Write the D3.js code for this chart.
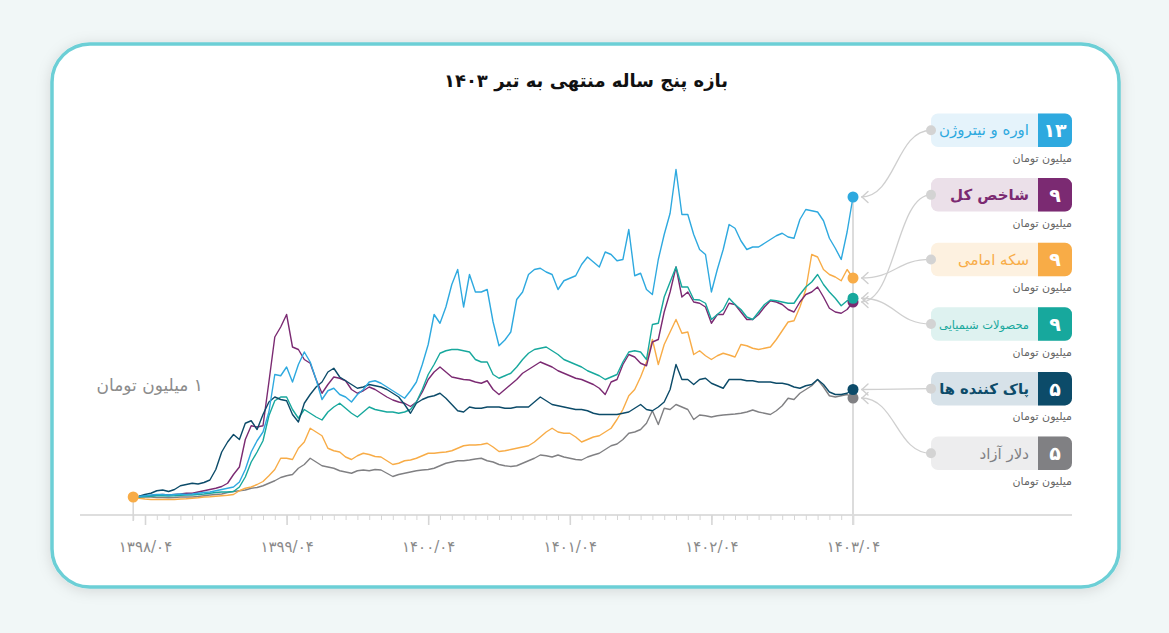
<!DOCTYPE html>
<html lang="fa">
<head>
<meta charset="utf-8">
<script src="https://cdn.jsdelivr.net/npm/d3@7"></script>
<style>
  html, body { margin: 0; padding: 0; background: #f1f7f7; }
  svg { display: block; font-family: 'DejaVu Sans', sans-serif; }
</style>
</head>
<body>
<div id="chart"></div>
<script>
// value of 1 million toman invested ~5 years ago, by half-month (0 = tir 1398)
const months = d3.range(-1, 60.01, 0.5);

const urea = [
  1.0, 1.02, 1.05, 1.08, 1.1, 1.1, 1.08, 1.1, 1.12, 1.1,
  1.12, 1.15, 1.18, 1.2, 1.25, 1.3, 1.35, 1.4, 1.6, 2.1,
  2.8, 3.25, 3.6, 4.4, 5.9, 5.85, 6.2, 5.6, 6.3, 6.8,
  6.4, 5.7, 4.9, 5.25, 5.35, 5.1, 5.0, 4.8, 5.1, 5.3,
  5.6, 5.65, 5.55, 5.4, 5.25, 5.1, 4.95, 5.25, 5.6, 6.3,
  7.1, 8.3, 7.95, 8.6, 9.5, 10.1, 8.6, 9.9, 9.2, 9.2,
  9.3, 8.0, 7.05, 7.28, 7.6, 8.9, 9.2, 9.9, 10.1, 10.15,
  10.0, 9.9, 9.3, 9.65, 9.75, 9.85, 10.3, 10.6, 10.4, 10.2,
  10.8, 10.7, 10.45, 10.5, 11.7, 9.85, 9.95, 9.3, 9.1, 10.5,
  11.5, 12.35, 14.1, 12.3, 12.3, 11.5, 10.9, 10.7, 9.2, 10.1,
  10.9, 11.9, 11.75, 11.25, 10.9, 11.0, 11.0, 11.15, 11.3, 11.45,
  11.55, 11.4, 11.35, 12.1, 12.5, 12.45, 12.4, 12.05, 11.35, 10.95,
  10.5, 11.6, 13.0
];
const shakhes = [
  1.0, 1.02, 1.05, 1.05, 1.08, 1.1, 1.08, 1.1, 1.12, 1.15,
  1.15, 1.2, 1.25, 1.3, 1.35, 1.42, 1.55, 1.9, 2.2, 3.3,
  3.85, 3.8, 3.85, 5.6, 7.4, 7.8, 8.3, 7.0, 6.9, 6.5,
  6.35, 5.7, 5.15, 5.5, 5.8, 5.75, 5.65, 5.3, 5.15, 5.25,
  5.4, 5.3, 5.15, 5.0, 4.88, 4.8, 4.75, 4.62, 4.8, 5.2,
  5.7, 6.0, 6.2, 6.0, 5.8, 5.75, 5.7, 5.68, 5.6, 5.55,
  5.65, 5.3, 5.1, 5.3, 5.5, 5.7, 5.95, 6.1, 6.25, 6.4,
  6.3, 6.2, 6.05, 5.95, 5.85, 5.75, 5.7, 5.6, 5.5, 5.35,
  5.1, 5.6, 5.7, 6.3, 6.7, 6.6, 6.35, 6.25, 7.2, 7.3,
  8.4, 9.2, 10.2, 9.0, 9.2, 8.8, 8.75, 8.6, 7.95, 8.3,
  8.3, 8.75, 8.7, 8.4, 8.1, 8.1, 8.3, 8.6, 8.85, 8.8,
  8.7, 8.5, 8.4, 8.8, 9.1, 9.2, 9.4, 9.0, 8.55, 8.4,
  8.35, 8.5, 8.8
];
const coin = [
  1.0, 0.95, 0.92, 0.9, 0.9, 0.9, 0.9, 0.9, 0.92, 0.93,
  0.95, 0.97, 1.0, 1.01, 1.03, 1.05, 1.07, 1.1, 1.25, 1.35,
  1.4, 1.5, 1.62, 1.85, 2.1, 2.55, 2.55, 2.5, 2.95, 3.2,
  3.75, 3.6, 3.45, 2.95, 2.85, 2.8, 2.6, 2.5, 2.65, 2.75,
  2.7, 2.62, 2.6, 2.45, 2.3, 2.35, 2.45, 2.48, 2.55, 2.65,
  2.75, 2.75, 2.78, 2.8, 2.85, 2.95, 3.05, 3.08, 3.08, 3.1,
  3.15, 3.0, 2.82, 2.85, 2.9, 2.95, 3.0, 3.05, 3.2, 3.4,
  3.6, 3.75, 3.6, 3.55, 3.55, 3.4, 3.2, 3.3, 3.4, 3.45,
  3.6, 3.75, 4.1, 4.5, 5.05, 5.3, 5.8, 6.4, 7.3, 6.3,
  7.1, 7.6, 8.1, 7.55, 7.6, 6.7, 6.85, 6.65, 6.5, 6.65,
  6.75, 6.68, 6.6, 7.1, 7.05, 6.95, 6.9, 6.95, 7.0, 7.3,
  7.65, 8.0, 8.05, 8.6, 9.3, 10.7, 10.6, 10.1, 9.9, 9.8,
  9.65, 10.1, 9.76
];
const chemical = [
  1.0, 1.0, 1.02, 1.03, 1.05, 1.05, 1.04, 1.05, 1.07, 1.08,
  1.08, 1.1, 1.12, 1.15, 1.18, 1.2, 1.2, 1.22, 1.4, 1.8,
  2.4, 2.8, 3.25, 4.25, 4.85, 5.0, 5.0, 4.5, 4.15, 4.5,
  4.35, 4.2, 4.08, 4.4, 4.6, 4.75, 4.55, 4.35, 4.2, 4.4,
  4.6, 4.5, 4.45, 4.4, 4.4, 4.35, 4.4, 4.5, 4.8, 5.3,
  5.9, 6.3, 6.75, 6.85, 6.9, 6.9, 6.85, 6.8, 6.5, 6.4,
  6.4, 5.9, 5.75, 5.85, 5.95, 6.2, 6.5, 6.75, 6.9, 6.95,
  7.0, 6.85, 6.7, 6.5, 6.4, 6.3, 6.2, 6.05, 5.95, 5.85,
  5.7, 5.8, 5.9, 6.4, 6.8, 6.85, 6.8, 6.5, 7.9, 7.95,
  9.0, 9.6, 10.2, 9.4, 9.4, 8.9, 8.88, 8.75, 8.1, 8.3,
  8.5, 8.95, 8.7, 8.5, 8.2, 8.1, 8.4, 8.7, 8.88, 8.85,
  8.8, 8.75, 8.75, 9.1, 9.4, 9.6, 9.9, 9.5, 9.2, 8.95,
  8.65, 8.85, 8.95
];
const cleaners = [
  1.0, 1.03, 1.1, 1.15, 1.25, 1.28, 1.22, 1.3, 1.45, 1.5,
  1.55, 1.52, 1.58, 1.68, 2.1, 2.8, 3.2, 3.5, 3.3, 3.95,
  4.05, 3.7, 4.3, 4.8, 5.0, 4.9, 4.85, 4.3, 4.0, 4.75,
  5.1, 5.4, 5.6, 6.0, 6.15, 5.8, 5.65, 5.5, 5.35, 5.4,
  5.5, 5.45, 5.4, 5.3, 5.15, 5.0, 4.7, 4.35, 4.75, 4.9,
  5.0, 5.05, 5.15, 4.95, 4.7, 4.45, 4.4, 4.6, 4.55, 4.55,
  4.6, 4.6, 4.6, 4.55, 4.55, 4.6, 4.6, 4.6, 4.8, 5.0,
  4.85, 4.7, 4.65, 4.6, 4.55, 4.5, 4.5, 4.45, 4.35, 4.3,
  4.3, 4.3, 4.3, 4.35, 4.4, 4.55, 4.7, 4.5, 4.45, 4.6,
  4.8, 5.3, 6.3, 5.7, 5.7, 5.5, 5.7, 5.75, 5.55, 5.45,
  5.35, 5.7, 5.7, 5.7, 5.65, 5.65, 5.6, 5.6, 5.6, 5.55,
  5.55, 5.5, 5.4, 5.35, 5.45, 5.5, 5.7, 5.5, 5.2, 5.1,
  5.1, 5.15, 5.3
];
const dollar = [
  1.0, 1.0, 1.0, 1.0, 0.98, 0.98, 0.97, 0.98, 1.0, 1.0,
  1.0, 1.02, 1.05, 1.08, 1.1, 1.12, 1.18, 1.22, 1.25, 1.28,
  1.35, 1.38, 1.45, 1.55, 1.65, 1.78, 1.85, 1.9, 2.15, 2.3,
  2.55, 2.4, 2.25, 2.2, 2.15, 2.05, 2.0, 1.95, 2.05, 2.08,
  2.05, 2.1, 2.08, 1.95, 1.82, 1.9, 1.95, 2.0, 2.05, 2.08,
  2.1, 2.15, 2.25, 2.35, 2.4, 2.45, 2.45, 2.48, 2.52, 2.55,
  2.45, 2.4, 2.3, 2.25, 2.22, 2.25, 2.35, 2.45, 2.55, 2.68,
  2.65, 2.6, 2.68, 2.6, 2.55, 2.5, 2.48, 2.6, 2.68, 2.75,
  2.9, 3.05, 3.12, 3.3, 3.55, 3.6, 3.7, 3.95, 4.45, 3.9,
  4.55, 4.5, 4.7, 4.6, 4.5, 4.1, 4.28, 4.25, 4.2, 4.25,
  4.28, 4.3, 4.32, 4.35, 4.4, 4.48, 4.4, 4.35, 4.3, 4.45,
  4.65, 4.95, 4.9, 5.15, 5.3, 5.45, 5.7, 5.4, 5.05, 5.0,
  5.05, 5.1, 4.96
];

const tickMonths = [0, 12, 24, 36, 48, 60];
const tickLabels = ["۱۳۹۸/۰۴", "۱۳۹۹/۰۴", "۱۴۰۰/۰۴", "۱۴۰۱/۰۴", "۱۴۰۲/۰۴", "۱۴۰۳/۰۴"];

const names = ["اوره و نیتروژن", "شاخص کل", "سکه امامی", "محصولات شیمیایی", "پاک کننده ها", "دلار آزاد"];
const legendValues = ["۱۳", "۹", "۹", "۹", "۵", "۵"];
const seriesData = [urea, shakhes, coin, chemical, cleaners, dollar];
const colors = ["#2ea9df", "#7b2a72", "#f8ac47", "#17a89d", "#0c4b69", "#808083"];
const bgColors = ["#e5f3fb", "#ebe0e9", "#fdf1e0", "#def2f0", "#d7e2e9", "#ededee"];
const drawOrder = [5, 2, 1, 3, 4, 0];

const W = 1169, H = 633;
const svg = d3.select("#chart").append("svg").attr("width", W).attr("height", H);

const filt = svg.append("defs").append("filter").attr("id", "shadow")
  .attr("x", "-5%").attr("y", "-8%").attr("width", "110%").attr("height", "118%");
filt.append("feDropShadow").attr("dx", 0).attr("dy", 2).attr("stdDeviation", 7)
  .attr("flood-color", "#000").attr("flood-opacity", 0.13);

// card
svg.append("rect")
  .attr("x", 52).attr("y", 44).attr("width", 1067).attr("height", 543).attr("rx", 38)
  .attr("fill", "#fff").attr("stroke", "#6ccfd6").attr("stroke-width", 3.5)
  .attr("filter", "url(#shadow)");

svg.append("text")
  .attr("x", 586).attr("y", 87).attr("text-anchor", "middle")
  .style("direction", "rtl")
  .attr("font-size", 18).attr("font-weight", "bold").attr("fill", "#111")
  .text("بازه پنج ساله منتهی به تیر ۱۴۰۳");

const x = d3.scaleLinear().domain([-1, 60]).range([133.2, 853]);
const y = d3.scaleLinear().domain([0, 15]).range([522, 147]);

// axis
svg.append("line").attr("x1", 80).attr("x2", 1072).attr("y1", 515).attr("y2", 515)
  .attr("stroke", "#dedede").attr("stroke-width", 2);

const minorAxis = svg.append("g").attr("transform", "translate(0,515)")
  .call(d3.axisBottom(x).tickValues(d3.range(-1, 61)).tickSize(5).tickFormat(""));
minorAxis.select(".domain").remove();
minorAxis.selectAll(".tick line").attr("stroke", "#d6d6d6").attr("stroke-width", 1);

const majorAxis = svg.append("g").attr("transform", "translate(0,515)")
  .call(d3.axisBottom(x).tickValues(tickMonths).tickSize(10).tickPadding(16)
    .tickFormat((d, i) => tickLabels[i]));
majorAxis.select(".domain").remove();
majorAxis.selectAll(".tick line").attr("stroke", "#d6d6d6").attr("stroke-width", 1.6);
majorAxis.selectAll(".tick text").attr("font-size", 15).attr("fill", "#8a8a8a")
  .attr("font-family", "'DejaVu Sans', sans-serif");

// end line
svg.append("line").attr("x1", x(60)).attr("x2", x(60)).attr("y1", y(13)).attr("y2", 525)
  .attr("stroke", "#dcdcdc").attr("stroke-width", 2);

// start stem
svg.append("line").attr("x1", x(-1)).attr("x2", x(-1)).attr("y1", y(1)).attr("y2", 521)
  .attr("stroke", "#d6d6d6").attr("stroke-width", 1.5);

// left label
const leftLabel = svg.append("text")
  .attr("y", 391).attr("text-anchor", "middle").style("direction", "rtl")
  .attr("font-size", 17).attr("fill", "#8c8c8c")
  .text("۱ میلیون تومان");
leftLabel.attr("x", 203 - leftLabel.node().getComputedTextLength() / 2);

const line = d3.line().x((d, i) => x(months[i])).y(d => y(d));

drawOrder.forEach(i => {
  svg.append("path")
    .datum(seriesData[i])
    .attr("d", line)
    .attr("fill", "none")
    .attr("stroke", colors[i])
    .attr("stroke-width", 1.4)
    .attr("stroke-linejoin", "round");
});

// start dot
svg.append("circle").attr("cx", x(-1)).attr("cy", y(1)).attr("r", 5.5).attr("fill", colors[2]);

// legend boxes + connectors
const boxX = 931, boxW = 141, boxH = 33.5, numW = 34, r = 7;
const link = d3.linkHorizontal();

names.forEach((name, i) => {
  const top = 113.5 + i * 64.6;
  const bottom = top + boxH;
  const cy = top + boxH / 2;
  const endVal = seriesData[i][seriesData[i].length - 1];
  const ey = y(endVal);

  svg.append("path")
    .attr("d", link({ source: [861, ey], target: [boxX, cy] }))
    .attr("fill", "none").attr("stroke", "#cfcfcf").attr("stroke-width", 1.3);
  svg.append("polyline")
    .attr("points", `${868},${ey - 5.5} ${862},${ey} ${868},${ey + 5.5}`)
    .attr("fill", "none").attr("stroke", "#cfcfcf").attr("stroke-width", 1.4)
    .attr("stroke-linecap", "round").attr("stroke-linejoin", "round");

  svg.append("rect")
    .attr("x", boxX).attr("y", top).attr("width", boxW).attr("height", boxH).attr("rx", r)
    .attr("fill", bgColors[i]);

  const x0 = boxX + boxW - numW, x1 = boxX + boxW;
  svg.append("path")
    .attr("d", `M${x0},${top}H${x1 - r}A${r},${r} 0 0 1 ${x1},${top + r}V${bottom - r}` +
               `A${r},${r} 0 0 1 ${x1 - r},${bottom}H${x0}Z`)
    .attr("fill", colors[i]);

  svg.append("circle").attr("cx", boxX).attr("cy", cy).attr("r", 5).attr("fill", "#d3d3d3");

  svg.append("text")
    .attr("x", (x0 + x1) / 2).attr("y", cy + 7).attr("text-anchor", "middle")
    .attr("font-size", 19).attr("font-weight", "bold").attr("fill", "#fff")
    .text(legendValues[i]);

  const lbl = svg.append("text")
    .attr("y", cy + 5.5).attr("text-anchor", "middle").style("direction", "rtl")
    .attr("font-size", 15).attr("fill", colors[i])
    .attr("font-weight", i === 1 || i === 4 ? "bold" : "normal")
    .text(name);
  let len = lbl.node().getComputedTextLength();
  if (len > 90) {
    lbl.attr("font-size", 15 * 90 / len).attr("y", cy + 5);
    len = lbl.node().getComputedTextLength();
  }
  lbl.attr("x", x0 - 9 - len / 2);

  const unit = svg.append("text")
    .attr("y", bottom + 15).attr("text-anchor", "middle").style("direction", "rtl")
    .attr("font-size", 11).attr("fill", "#666")
    .text("میلیون تومان");
  unit.attr("x", x1 - unit.node().getComputedTextLength() / 2);
});

// end dots
drawOrder.forEach(i => {
  const s = seriesData[i];
  svg.append("circle").attr("cx", x(months[s.length - 1])).attr("cy", y(s[s.length - 1]))
    .attr("r", 5.5).attr("fill", colors[i]);
});
</script>
</body>
</html>
